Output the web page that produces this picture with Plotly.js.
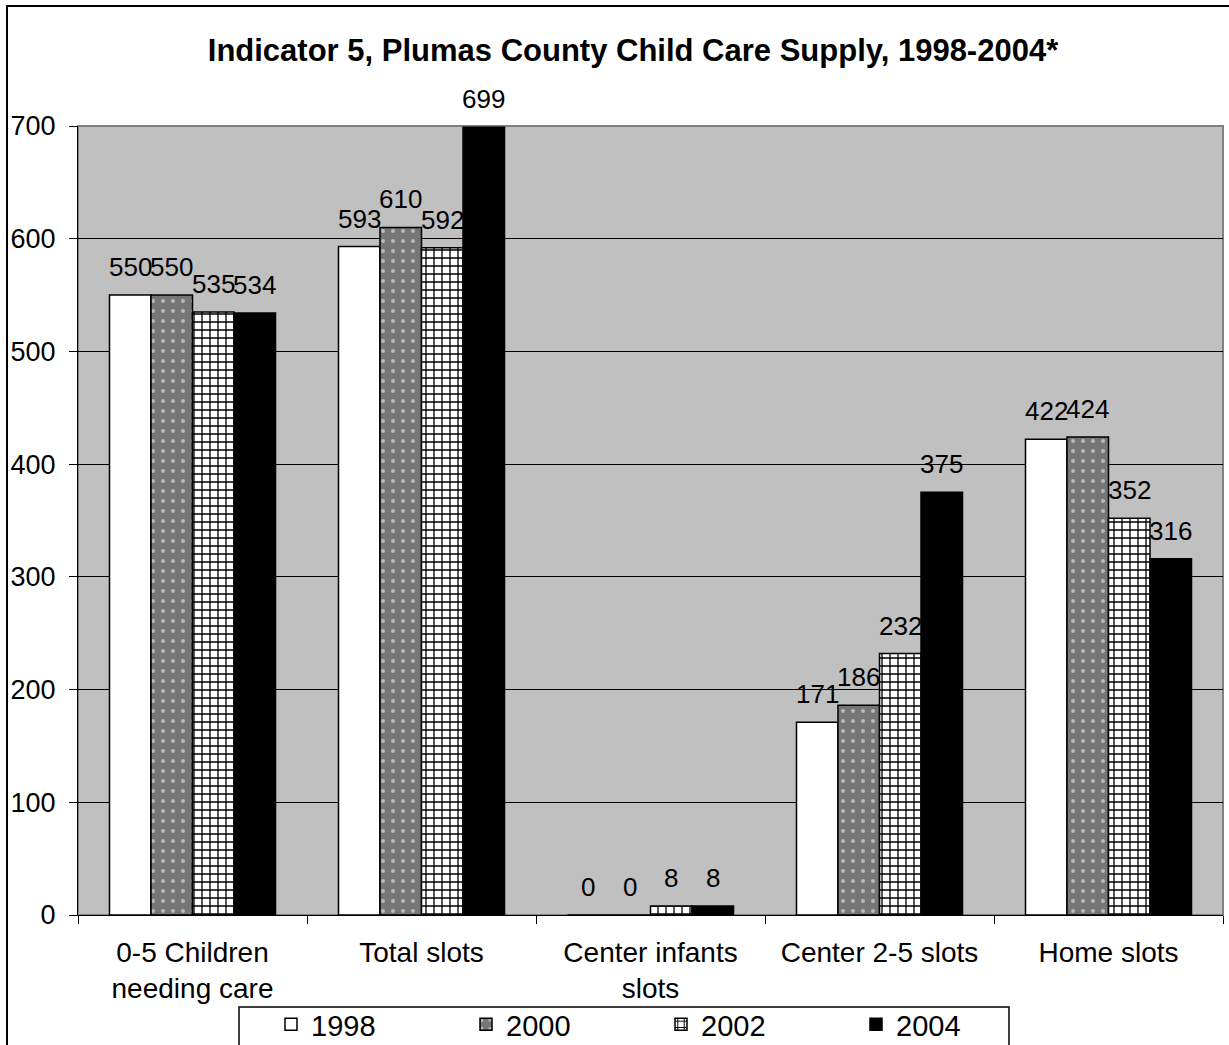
<!DOCTYPE html>
<html><head><meta charset="utf-8">
<script src="https://cdn.plot.ly/plotly-3.0.1.min.js"></script>
<style>html,body{margin:0;padding:0;background:#fff;}#chart{width:1229px;height:1045px;}</style>
</head><body><div id="chart"></div>
<script>
const categories = ["0-5 Children<br>needing care", "Total slots", "Center infants<br>slots", "Center 2-5 slots", "Home slots"];
const years = ["1998", "2000", "2002", "2004"];
const v1998 = [550, 593, 0, 171, 422];
const v2000 = [550, 610, 0, 186, 424];
const v2002 = [535, 592, 8, 232, 352];
const v2004 = [534, 699, 8, 375, 316];
const title = "Indicator 5, Plumas County Child Care Supply, 1998-2004*";

const F = "'Liberation Sans', Arial, sans-serif";
const BARGAP = 0.275;
const styles = [
  {color: "#ffffff"},
  {color: "#767676", pattern: {shape: ".", fgcolor: "#ffffff", size: 10, solidity: 0.12, fillmode: "overlay"}},
  {color: "#ffffff", pattern: {shape: "+", fgcolor: "#000000", bgcolor: "#ffffff", size: 8, solidity: 0.3, fillmode: "replace"}},
  {color: "#000000"}
];
const series = [v1998, v2000, v2002, v2004];
const traces = series.map((vals, i) => ({
  type: "bar", name: years[i], x: categories, y: vals,
  marker: Object.assign({line: {color: "#000", width: 1.5}}, styles[i])
}));

// value labels placed above each bar via the axes
const annotations = [];
const nS = series.length, bw = (1 - BARGAP) / nS;
series.forEach((vals, si) => {
  vals.forEach((v, ci) => {
    annotations.push({
      xref: "x", yref: "y", x: ci + (si - (nS - 1) / 2) * bw, y: v,
      text: String(v), showarrow: false, yanchor: "bottom", xanchor: "center",
      yshift: 11, font: {family: F, size: 26, color: "#000"}
    });
  });
});

const layout = {
  width: 1229, height: 1045,
  margin: {l: 78, r: 6, t: 126, b: 130},
  paper_bgcolor: "#ffffff", plot_bgcolor: "#c0c0c0",
  barmode: "group", bargap: BARGAP, bargroupgap: 0,
  title: {text: "<b>" + title + "</b>", font: {family: F, size: 31, color: "#000"},
          xref: "container", x: 633/1229, xanchor: "center", yref: "container", y: 1 - 50/1045, yanchor: "middle"},
  font: {family: F, size: 28, color: "#000"},
  xaxis: {type: "category", tickson: "boundaries", ticks: "outside", ticklen: 8, tickcolor: "#000",
          showline: true, linecolor: "#000", linewidth: 1, tickfont: {family: F, size: 28},
          showgrid: false, ticklabelstandoff: 12},
  yaxis: {range: [0, 700], dtick: 100, ticks: "outside", ticklen: 8, tickcolor: "#000",
          showline: true, linecolor: "#000", showgrid: true, gridcolor: "#000", gridwidth: 1,
          tickfont: {family: F, size: 27}, zeroline: false, ticklabelstandoff: 8},
  showlegend: true,
  legend: {orientation: "h", xref: "container", yref: "container", x: 271/1229, y: 1 - 999/1045,
           xanchor: "left", yanchor: "top", borderwidth: 0, bgcolor: "rgba(0,0,0,0)",
           font: {family: F, size: 29}, entrywidth: 150, entrywidthmode: "pixels", traceorder: "normal"},
  annotations: annotations,
  shapes: [
    {type: "rect", xref: "paper", yref: "paper", x0: 0, x1: 1, y0: 0, y1: 1, line: {color: "#808080", width: 2}, fillcolor: "rgba(0,0,0,0)", layer: "below"},
    {type: "rect", xref: "paper", yref: "paper", x0: (7-78)/1145, x1: (1240-78)/1145, y0: (915-1100)/789, y1: (915-6)/789, line: {color: "#000", width: 2}, fillcolor: "rgba(0,0,0,0)"},
    {type: "rect", xref: "paper", yref: "paper", x0: (239-78)/1145, x1: (1009-78)/1145, y0: (915-1100)/789, y1: (915-1007)/789, line: {color: "#000", width: 1.5}, fillcolor: "rgba(0,0,0,0)"}
  ]
};
Plotly.newPlot("chart", traces, layout, {displayModeBar: false, staticPlot: true});
</script></body></html>
